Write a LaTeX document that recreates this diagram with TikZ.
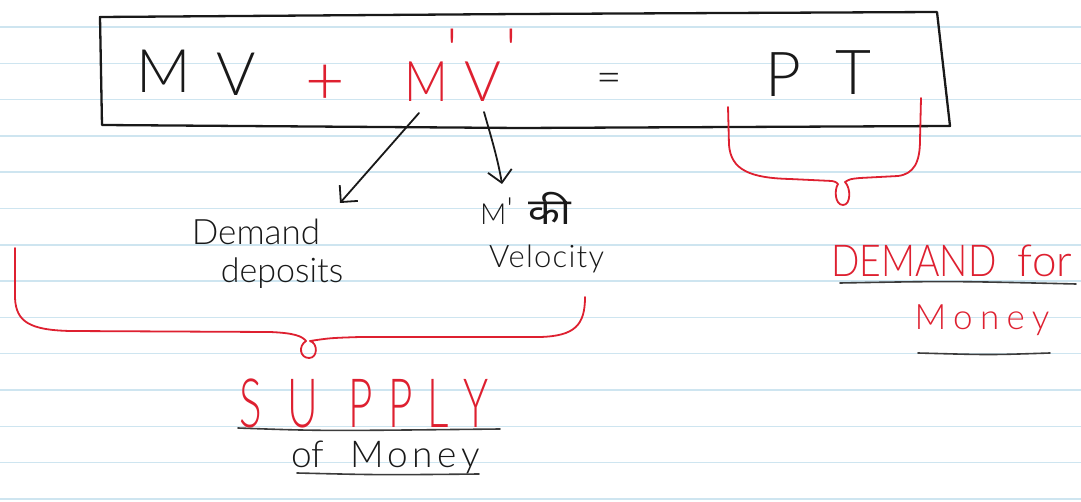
\documentclass[tikz,border=0pt]{standalone}
\usepackage{fontspec}
\IfFontExistsTF{Lato Light}{\setmainfont{Lato Light}}{\setmainfont{Lato}}
\newfontfamily\devfont[Script=Devanagari]{Noto Sans}
\usetikzlibrary{arrows.meta}
\definecolor{ink}{RGB}{25,25,25}
\definecolor{redink}{RGB}{222,32,48}
\definecolor{paperrule}{RGB}{206,229,240}
\newcommand{\hprime}[2]{\raisebox{#1pt}{\fontsize{#2}{#2}\selectfont\textquotesingle}}
\tikzset{
  fs/.style={font=\fontsize{#1}{#1}\selectfont},
  blk/.style={text=ink, inner sep=0pt, anchor=base},
  rd/.style={text=redink, inner sep=0pt, anchor=base},
  pen/.style={draw=ink, line width=1.8pt, line cap=round, line join=round},
  redpen/.style={draw=redink, line width=1.8pt, line cap=round, line join=round},
  uline/.style={draw=ink!85, line width=1.6pt, line cap=round},
  arr/.style={pen, -{Straight Barb[length=12pt,width=24pt,line width=1.8pt]}}
}
\begin{document}
\begin{tikzpicture}[x=1pt,y=-1pt]
\fill[white] (0,0) rectangle (1081,502);
\useasboundingbox (0,0) rectangle (1081,502);
% ruled paper
\foreach \k in {0,...,13}
  \draw[paperrule, line width=1.5pt] (0,27+36.3*\k) -- (1081,27+36.3*\k);

% equation box
\draw[pen, line width=2.3pt] (100,17) -- (520,14) -- (937,12) -- (950,126) -- (520,128) -- (102,125) -- cycle;

% equation
\node[blk, fs=60] (M) at (164,93) {M};
\node[blk, fs=60] (V) at (236,96) {V};
\node[rd, fs=68, anchor=center] (plus) at (325,85) {+};
\node[rd, fs=56, anchor=base west] (MV1) at (404,102) {\scalebox{0.86}[1]{M}\hspace{-1pt}\hprime{30}{60}\hspace{6pt}V\hspace{4pt}\hprime{30}{60}};
\node[blk, fs=44, anchor=center] (eq) at (609,83) {=};
\node[blk, fs=62] (P) at (783,97) {P};
\node[blk, fs=62] (T) at (853,95) {T};

% labels
\node[blk, fs=35] (dem) at (256,245) {Demand};
\node[blk, fs=34] (dep) at (282,283) {deposits};
\node[blk, fs=29, anchor=base west] (mki) at (480,225) {M\hprime{4}{32}\hspace{16pt}{\devfont\fontsize{36}{36}\selectfont\scalebox{1.15}[1]{की}}};
\node[blk, fs=31, anchor=base west] (vel) at (489,268) {\addfontfeature{LetterSpace=4}Velocity};

% arrows
\coordinate (a1s) at (419,113);
\coordinate (a1e) at (340,203);
\coordinate (a2s) at (484,112);
\coordinate (a2e) at (502,184);
\draw[arr] (a1s) -- (a1e);
\draw[arr] (a2s) .. controls (492,140) and (498,160) .. (a2e);

% supply brace
\draw[redpen] (15,248) -- (15,298) .. controls (16,322) and (30,330) .. (70,331)
  -- (270,332) .. controls (294,333) and (302,336) .. (306,341)
  .. controls (298,346) and (300,358) .. (309,358)
  .. controls (318,358) and (318,343) .. (310,341)
  .. controls (330,338) .. (360,337) -- (540,337)
  .. controls (575,336) and (585,325) .. (585,297);

% PT brace
\draw[redpen] (728,107) -- (729,145) .. controls (731,170) and (750,178) .. (790,179)
  -- (832,181) .. controls (836,182) .. (838,184)
  .. controls (834,190) and (835,205) .. (843,205)
  .. controls (851,205) and (851,188) .. (845,182)
  .. controls (850,179) .. (860,178) -- (898,176)
  .. controls (914,174) and (920,162) .. (920,140) -- (921,98);

% SUPPLY of Money
\foreach \ch/\xx [count=\i] in {S/251,U/303,P/361,P/401,L/438,Y/476}
  \node[rd, fs=68] (sup\i) at (\xx,427) {\scalebox{0.62}[1]{\ch}};
\draw[uline] (238,428) .. controls (320,431) .. (500,429);
\node[blk, fs=37] (of) at (308,467) {of};
\node[blk, fs=37] (smoney) at (415,467) {\addfontfeature{LetterSpace=12}Money};
\draw[uline] (297,473) .. controls (380,475) .. (479,474);

% DEMAND for Money
\node[rd, fs=44] (demand) at (914,277) {\scalebox{0.85}[1]{DEMAND}};
\node[rd, fs=44] (for) at (1045,277) {for};
\draw[uline] (840,283) .. controls (950,281) .. (1076,284);
\node[rd, fs=35] (dmoney) at (982,330) {\addfontfeature{LetterSpace=21}Money};
\draw[uline] (918,353) .. controls (990,355) .. (1050,353);
\end{tikzpicture}
\end{document}
